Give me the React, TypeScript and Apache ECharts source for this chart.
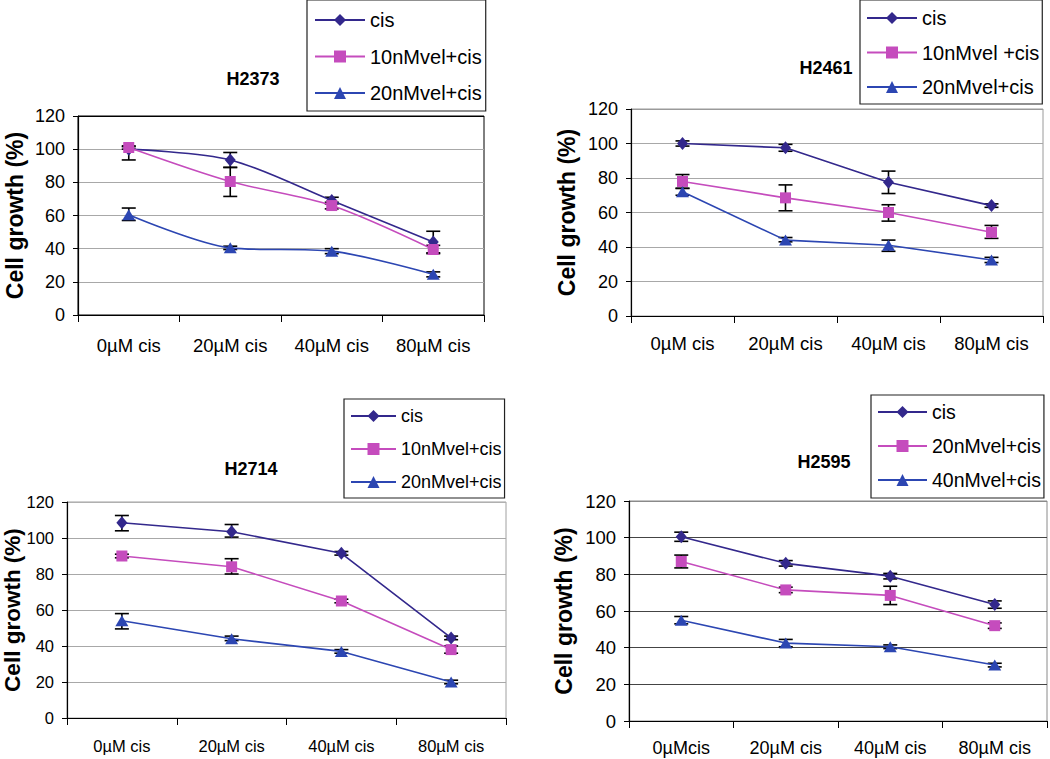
import React, { useEffect, useRef } from 'react';
import * as echarts from 'echarts';

// ---------- data ----------
const catsStd = ['0µM cis', '20µM cis', '40µM cis', '80µM cis'];
const catsH2595 = ['0µMcis', '20µM cis', '40µM cis', '80µM cis'];

const yMin = 0;
const yMax = 120;
const yStep = 20;

// H2373
const h2373Names = ['cis', '10nMvel+cis', '20nMvel+cis'];
const h2373Cis = [100, 93.5, 69, 44];
const h2373Vel10 = [101, 80.5, 66, 39.5];
const h2373Vel20 = [60.5, 40.5, 38.5, 24.5];
const h2373CisErr = [[93.5, 101.5], [89, 98], [67, 71], [37.5, 50.5]];
const h2373Vel10Err = [[100, 102], [71.5, 89], [64, 68], [37, 42]];
const h2373Vel20Err = [[57, 64.5], [39.5, 41.5], [37, 40], [23, 26]];

// H2461
const h2461Names = ['cis', '10nMvel +cis', '20nMvel+cis'];
const h2461Cis = [100, 97.5, 77.5, 64];
const h2461Vel10 = [78, 68.5, 60, 48.5];
const h2461Vel20 = [72, 44, 41, 32.5];
const h2461CisErr = [[98.5, 101.5], [95.5, 99.5], [71, 84], [63, 65]];
const h2461Vel10Err = [[74, 82], [61, 76], [55, 64.5], [45, 52.5]];
const h2461Vel20Err = [[70, 74], [43, 45.5], [37.5, 44], [31, 34]];

// H2714
const h2714Names = ['cis', '10nMvel+cis', '20nMvel+cis'];
const h2714Cis = [108.5, 103.5, 91.5, 44.5];
const h2714Vel10 = [90, 84, 65, 38];
const h2714Vel20 = [54, 44, 37, 20];
const h2714CisErr = [[104, 112.5], [100.5, 107.5], [90.5, 92.5], [43.5, 45.5]];
const h2714Vel10Err = [[89, 91], [80, 88.5], [64, 66], [36, 40]];
const h2714Vel20Err = [[49.5, 58], [43, 45.5], [36, 38], [19, 21]];

// H2595
const h2595Names = ['cis', '20nMvel+cis', '40nMvel+cis'];
const h2595Cis = [100.5, 86, 79, 63.5];
const h2595Vel20 = [87, 71.5, 68.5, 52];
const h2595Vel40 = [55, 42.5, 40.5, 30.5];
const h2595CisErr = [[98, 103], [84.5, 87.5], [77.5, 80.5], [61.5, 65.5]];
const h2595Vel20Err = [[83.5, 90.5], [70, 73], [63.5, 73.5], [50.5, 53.5]];
const h2595Vel40Err = [[53, 57], [40.5, 44.5], [39.5, 41.5], [29.5, 31.5]];

// ---------- styles ----------
const FONT = '"Liberation Sans", Arial, Helvetica, sans-serif';
const colors = ['#33288C', '#C54CBD', '#2C46B2'];
const symbols = ['diamond', 'rect', 'triangle'];
const symbolSizes: any[] = [[11, 13], 11, [13, 11]];

type Panel = {
  key: string;
  box: { left: number; top: number; width: number; height: number };
  title: string;
  titlePos: [number, number];
  names: string[];
  cats: string[];
  values: number[][];
  errs: number[][][];
  smooth: number | boolean;
  grid: { left: number; top: number; width: number; height: number };
  legend: { left: number; top: number; padding: number[]; itemWidth: number; itemGap: number; font: number };
  yFont: number;
  xFont: number;
  yNameGap: number;
  yNameFont: number;
  xLabelMargin: number;
  splitColors: string[];
  borderColor: string;
};

const greyGrid = '#a8a8a8';

const panels: Panel[] = [
  {
    key: 'p1',
    box: { left: 0, top: 0, width: 525, height: 379 },
    title: 'H2373',
    titlePos: [253, 79],
    names: h2373Names,
    cats: catsStd,
    values: [h2373Cis, h2373Vel10, h2373Vel20],
    errs: [h2373CisErr, h2373Vel10Err, h2373Vel20Err],
    smooth: 0.3,
    grid: { left: 78, top: 116, width: 406, height: 199 },
    legend: { left: 307, top: 0, padding: [10, 4, 8, 7], itemWidth: 50, itemGap: 16.5, font: 20 },
    yFont: 18,
    xFont: 18.5,
    yNameGap: 52,
    yNameFont: 23,
    xLabelMargin: 21,
    splitColors: ['#000', greyGrid, greyGrid, greyGrid, greyGrid, greyGrid, '#000'],
    borderColor: '#000',
  },
  {
    key: 'p2',
    box: { left: 525, top: 0, width: 525, height: 379 },
    title: 'H2461',
    titlePos: [301, 68],
    names: h2461Names,
    cats: catsStd,
    values: [h2461Cis, h2461Vel10, h2461Vel20],
    errs: [h2461CisErr, h2461Vel10Err, h2461Vel20Err],
    smooth: false,
    grid: { left: 106, top: 109, width: 412, height: 207 },
    legend: { left: 335, top: 0, padding: [8, 3, 7, 6], itemWidth: 50, itemGap: 14.5, font: 20 },
    yFont: 18,
    xFont: 18.5,
    yNameGap: 53,
    yNameFont: 23,
    xLabelMargin: 18,
    splitColors: ['#000', greyGrid, greyGrid, greyGrid, greyGrid, greyGrid, '#9a9a9a'],
    borderColor: '#9a9a9a',
  },
  {
    key: 'p3',
    box: { left: 0, top: 379, width: 525, height: 380 },
    title: 'H2714',
    titlePos: [251, 90],
    names: h2714Names,
    cats: catsStd,
    values: [h2714Cis, h2714Vel10, h2714Vel20],
    errs: [h2714CisErr, h2714Vel10Err, h2714Vel20Err],
    smooth: false,
    grid: { left: 67, top: 123, width: 439, height: 216 },
    legend: { left: 344, top: 20, padding: [8, 3, 7, 6], itemWidth: 45, itemGap: 15, font: 18 },
    yFont: 16.5,
    xFont: 16.5,
    yNameGap: 43,
    yNameFont: 22.5,
    xLabelMargin: 19,
    splitColors: ['#000', greyGrid, greyGrid, greyGrid, greyGrid, greyGrid, '#b0b0b0'],
    borderColor: '#a0a0a0',
  },
  {
    key: 'p4',
    box: { left: 525, top: 379, width: 525, height: 380 },
    title: 'H2595',
    titlePos: [299, 83],
    names: h2595Names,
    cats: catsH2595,
    values: [h2595Cis, h2595Vel20, h2595Vel40],
    errs: [h2595CisErr, h2595Vel20Err, h2595Vel40Err],
    smooth: false,
    grid: { left: 104, top: 122, width: 418, height: 220 },
    legend: { left: 346, top: 16, padding: [7, 3, 8, 6], itemWidth: 49, itemGap: 14, font: 19.5 },
    yFont: 18.5,
    xFont: 18,
    yNameGap: 54,
    yNameFont: 23,
    xLabelMargin: 18,
    splitColors: ['#000', '#444', '#444', '#444', '#444', '#444', '#8a8a8a'],
    borderColor: '#8a8a8a',
  },
];

function errorRender(params: any, api: any) {
  const x = api.value(0);
  const lo = api.coord([x, api.value(1)]);
  const hi = api.coord([x, api.value(2)]);
  const w = 7;
  const st = { stroke: '#000', lineWidth: 1.6 };
  return {
    type: 'group',
    children: [
      { type: 'line', shape: { x1: lo[0], y1: lo[1], x2: hi[0], y2: hi[1] }, style: st },
      { type: 'line', shape: { x1: lo[0] - w, y1: lo[1], x2: lo[0] + w, y2: lo[1] }, style: st },
      { type: 'line', shape: { x1: hi[0] - w, y1: hi[1], x2: hi[0] + w, y2: hi[1] }, style: st },
    ],
  };
}

function buildOption(p: Panel): any {
  const series: any[] = [];
  p.values.forEach((vals, i) => {
    series.push({
      type: 'custom',
      renderItem: errorRender,
      data: p.errs[i].map((e, j) => [j, e[0], e[1]]),
      encode: { x: 0, y: [1, 2] },
      z: 2,
      silent: true,
    });
  });
  p.values.forEach((vals, i) => {
    series.push({
      name: p.names[i],
      type: 'line',
      data: vals,
      smooth: p.smooth,
      symbol: symbols[i],
      symbolSize: symbolSizes[i],
      showAllSymbol: true,
      color: colors[i],
      itemStyle: { color: colors[i], borderWidth: 0 },
      lineStyle: { color: colors[i], width: 1.6 },
      z: 3,
    });
  });
  return {
    animation: false,
    backgroundColor: '#fff',
    textStyle: { fontFamily: FONT },
    graphic: [
      {
        type: 'text',
        x: p.titlePos[0],
        y: p.titlePos[1],
        style: {
          text: p.title,
          fontSize: 18,
          fontWeight: 'bold',
          fontFamily: FONT,
          fill: '#000',
          align: 'center',
          verticalAlign: 'middle',
          textAlign: 'center',
          textVerticalAlign: 'middle',
        },
      },
    ],
    legend: {
      show: true,
      orient: 'vertical',
      left: p.legend.left,
      top: p.legend.top,
      padding: p.legend.padding,
      itemWidth: p.legend.itemWidth,
      itemHeight: 15,
      itemGap: p.legend.itemGap,
      borderColor: '#222',
      borderWidth: 1.2,
      selectedMode: false,
      data: p.names,
      textStyle: { fontSize: p.legend.font, color: '#000', fontFamily: FONT, lineHeight: p.legend.font },
    },
    grid: {
      left: p.grid.left,
      top: p.grid.top,
      width: p.grid.width,
      height: p.grid.height,
      containLabel: false,
      outerBoundsMode: 'none',
      show: true,
      borderColor: p.borderColor,
      borderWidth: 1,
      backgroundColor: 'transparent',
    },
    xAxis: {
      type: 'category',
      data: p.cats,
      boundaryGap: true,
      axisLine: { show: true, lineStyle: { color: '#000', width: 1.2 } },
      axisTick: { show: true, length: 7, interval: 0, lineStyle: { color: '#000' } },
      axisLabel: { color: '#000', fontSize: p.xFont, fontFamily: FONT, margin: p.xLabelMargin, interval: 0 },
      splitLine: { show: false },
    },
    yAxis: {
      type: 'value',
      min: yMin,
      max: yMax,
      interval: yStep,
      name: 'Cell growth (%)',
      nameLocation: 'middle',
      nameRotate: 90,
      nameGap: p.yNameGap,
      nameMoveOverlap: false,
      nameTextStyle: { fontSize: p.yNameFont, fontWeight: 'bold', color: '#000', fontFamily: FONT },
      axisLine: { show: true, lineStyle: { color: '#000', width: 1.2 } },
      axisTick: { show: true, length: 5, lineStyle: { color: '#000' } },
      axisLabel: { color: '#000', fontSize: p.yFont, fontFamily: FONT, margin: 13 },
      splitLine: { show: true, lineStyle: { color: p.splitColors, width: 1 } },
    },
    series,
  };
}

function ChartPanel({ p }: { p: Panel }) {
  const ref = useRef<HTMLDivElement>(null);
  useEffect(() => {
    if (!ref.current) return;
    const chart = echarts.init(ref.current, undefined, { renderer: 'svg' });
    chart.setOption(buildOption(p));
    return () => chart.dispose();
  }, [p]);
  return (
    <div
      ref={ref}
      style={{
        position: 'absolute',
        left: p.box.left,
        top: p.box.top,
        width: p.box.width,
        height: p.box.height,
      }}
    />
  );
}

export default function App() {
  return (
    <div
      style={{
        position: 'absolute',
        left: 0,
        top: 0,
        width: 1050,
        height: 759,
        background: '#fff',
        overflow: 'hidden',
      }}
    >
      {panels.map((p) => (
        <ChartPanel key={p.key} p={p} />
      ))}
    </div>
  );
}
